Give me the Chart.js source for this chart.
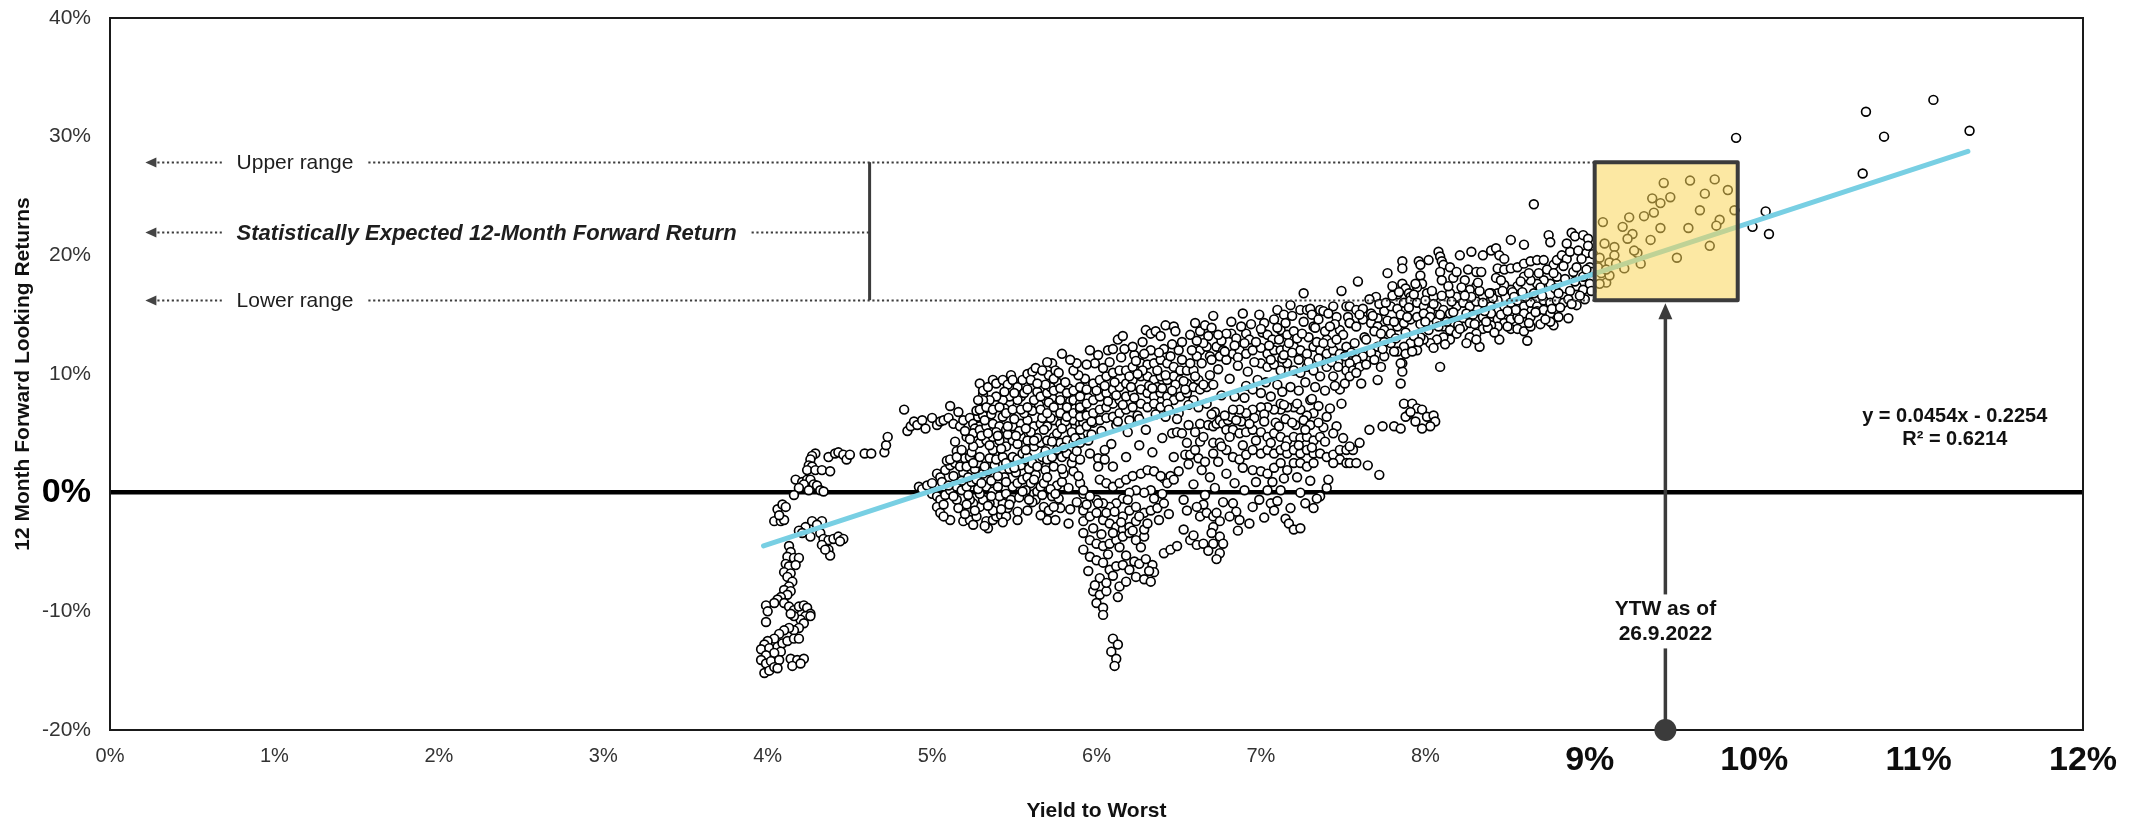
<!DOCTYPE html>
<html>
<head>
<meta charset="utf-8">
<script src="https://cdn.jsdelivr.net/npm/chart.js@4.4.1/dist/chart.umd.min.js"></script>
<style>
  html, body { margin: 0; padding: 0; background: #fff; }
  canvas { display: block; }
</style>
</head>
<body>
<canvas id="chart" width="2131" height="822"></canvas>
<script>
// Axis tick labels
const xTickLabels = ['0%', '1%', '2%', '3%', '4%', '5%', '6%', '7%', '8%', '9%', '10%', '11%', '12%'];
const yTickLabels = ['-20%', '-10%', '0%', '10%', '20%', '30%', '40%'];

// Yield to worst (%) vs. 12 month forward return (%), grouped by region of the cloud
const hookPoints = [
  [4.29,3.3],[4.27,3.1],[4.26,2.8],[4.25,2.3],[4.27,2.2],[4.24,1.9],[4.29,1.9],[4.33,1.9],[4.38,1.8],[4.17,1.1],
  [4.21,0.9],[4.24,1.1],[4.26,1.1],[4.28,0.7],[4.30,0.6],[4.22,0.7],[4.19,0.4],[4.25,0.2],[4.32,0.2],[4.34,0.1],
  [4.16,-0.2],[4.37,3.0],[4.41,3.3],[4.43,3.4],[4.46,3.2],[4.48,2.8],[4.50,3.2],[4.59,3.3],[4.63,3.3],[4.71,3.4],
  [4.72,4.0],[4.73,4.7],[4.06,-1.4],[4.09,-1.0],[4.11,-1.2],[4.04,-2.4],[4.08,-2.4],[4.10,-2.3],[4.07,-1.9],
  [4.27,-2.4],[4.33,-2.4],[4.30,-2.7],[4.23,-2.9],[4.19,-3.2],[4.21,-3.4],[4.26,-3.7],[4.32,-3.4],[4.34,-3.9],
  [4.37,-4.0],[4.40,-3.9],[4.43,-3.7],[4.46,-3.9],[4.44,-4.1],[4.33,-4.4],[4.37,-4.8],[4.38,-5.3],[4.35,-4.8],
  [4.13,-4.5],[4.14,-5.0],[4.12,-5.4],[4.16,-5.5],[4.19,-5.5],[4.11,-6.0],[4.13,-6.2],[4.17,-6.1],[4.10,-6.7],
  [4.14,-6.8],[4.12,-7.1],[4.15,-7.5],[4.13,-7.9],[4.10,-8.2],[4.14,-8.3],[4.12,-8.6],[4.08,-8.8],[4.06,-9.0],
  [4.04,-9.3],[3.99,-9.5],[4.00,-10.0],[3.99,-10.9],[4.10,-9.3],[4.13,-9.6],[4.16,-9.9],[4.19,-9.6],[4.22,-9.5],
  [4.24,-9.7],[4.26,-10.2],[4.23,-10.4],[4.20,-10.7],[4.16,-10.4],[4.14,-10.2],[4.26,-10.4],[4.22,-11.0],
  [4.19,-11.4],[4.16,-11.6],[4.13,-11.4],[4.10,-11.6],[4.07,-11.9],[4.04,-12.3],[4.00,-12.5],[3.98,-12.8],
  [3.96,-13.2],[4.01,-13.1],[4.06,-13.0],[4.09,-12.7],[4.12,-12.5],[4.16,-12.3],[4.19,-12.3],[4.08,-13.4],
  [4.04,-13.5],[3.99,-13.7],[3.96,-14.1],[3.99,-14.4],[4.02,-14.2],[4.07,-14.1],[4.14,-14.0],[4.18,-14.1],
  [4.22,-14.0],[4.15,-14.6],[4.20,-14.4],[3.98,-15.2],[4.01,-15.0],[4.04,-14.7],[4.06,-14.8]
];

const earlyBandPoints = [
  [4.83,7.0],[4.85,5.2],[4.87,5.6],[4.89,6.0],[4.91,5.7],[4.94,6.1],[4.96,5.4],[5.00,6.3],[5.03,5.7],[5.05,6.0],
  [5.07,6.1],[5.11,7.3],[5.10,6.3],[5.13,5.8],[5.16,6.8],[5.17,5.6],[5.19,6.1],[5.23,6.3],[5.25,5.8],[5.28,6.4],
  [5.31,6.5],[5.29,5.6],[5.26,5.4]
];

const nearZeroPoints = [
  [4.92,0.5],[4.94,0.3],[4.97,0.6],[5.00,0.8],[5.03,1.6],[5.05,1.3],[5.08,1.9],[5.11,2.3],[5.14,2.5],[5.17,2.8],
  [5.20,2.9],[5.23,3.0],[5.00,-0.1],[5.03,-0.3],[5.05,-0.6],[5.08,-0.2],[5.11,0.2],[5.15,0.5],[5.18,0.2],[5.21,0.5],
  [5.24,0.9],[5.27,1.1],[5.03,-1.2],[5.05,-1.7],[5.07,-1.0],[5.11,-2.3],[5.19,-2.4],[5.23,-2.3],[5.25,-2.7],
  [5.27,-2.0],[5.29,-1.2],[5.25,-0.9],[5.23,-0.6],[5.21,-1.0],[5.15,-0.6],[5.33,-2.4],[5.34,-3.0],[5.37,-2.3],
  [5.39,-2.0],[5.42,-1.9],[5.45,-2.0],[5.46,-1.3],[5.52,-1.6],[5.58,-1.5],[5.43,-0.9],[5.37,-1.5],[5.35,-0.9],
  [5.31,-0.6],[5.29,-0.1],[5.33,0.5],[5.37,0.1],[5.41,-0.3],[5.45,-0.1],[5.49,0.5],[5.52,0.8],[5.55,1.1],
  [5.58,1.3],[5.60,0.8],[5.62,-0.1],[5.64,0.1],[5.66,0.5],[5.68,0.8],[5.63,-0.6],[5.68,-1.2],[5.71,-1.5],
  [5.70,-2.3],[5.75,-2.3],[5.78,-1.3],[5.74,-1.2],[5.73,-0.3],[5.76,0.6],[5.79,0.9],[5.83,-2.6],[5.86,1.8],
  [5.90,0.8],[5.92,-0.1],[5.92,-1.2],[5.92,-2.4],
  [5.06,0.9],[5.09,2.7],[5.13,1.4],[5.16,-1.3],[5.19,1.7],[5.22,-0.2],[5.26,2.0],[5.28,0.3],[5.31,1.6],[5.34,-1.1],
  [5.36,1.0],[5.38,2.3],[5.40,0.5],[5.42,-1.4],[5.44,1.3],[5.47,2.0],[5.48,-0.6],[5.51,1.7],[5.53,-0.4],[5.54,2.3],
  [5.57,0.2],[5.59,2.0],[5.61,-0.8],[5.63,1.5],[5.65,2.6],[5.67,-0.2],[5.69,1.9],[5.72,0.3],[5.74,2.2],[5.77,-0.5],
  [5.80,1.6],[5.83,0.4],[5.85,2.5],[5.88,-0.8],[5.89,1.4],
  [5.07,-2.0],[5.10,0.6],[5.13,-0.3],[5.15,3.5],[5.18,1.0],[5.20,-1.8],[5.22,1.3],[5.24,3.4],[5.26,-1.5],[5.28,2.5],
  [5.30,0.8],[5.32,-2.8],[5.34,1.8],[5.36,-0.3],[5.38,3.2],[5.40,1.4],[5.43,-2.5],[5.45,0.9],[5.47,-1.0],[5.50,2.1],
  [5.52,-2.3],[5.55,0.1],[5.57,2.8],[5.59,-0.6],[5.62,1.1],[5.66,-1.9],[5.70,1.3],[5.75,-0.1],[5.79,2.0],[5.84,-1.4]
];

const midBandPoints = [
  [5.11,2.8],[5.15,3.0],[5.17,2.2],[5.21,2.2],[5.25,2.5],[5.29,3.0],[5.32,2.2],[5.35,2.9],[5.37,3.6],[5.39,2.8],
  [5.43,3.0],[5.45,2.5],[5.49,3.0],[5.52,2.8],[5.55,3.3],[5.58,3.0],[5.61,2.5],[5.64,2.2],[5.67,3.0],[5.70,2.8],
  [5.73,3.0],[5.76,3.6],[5.79,3.0],[5.82,3.3],[5.29,4.2],[5.25,3.9],[5.33,4.4],[5.37,4.7],[5.41,4.4],[5.45,3.9],
  [5.49,4.4],[5.54,4.7],[5.58,4.4],[5.62,3.9],[5.66,4.2],[5.70,4.4],[5.74,4.7],[5.78,4.2],[5.82,4.4],[5.86,4.2],
  [5.90,4.7],[5.86,3.0],[5.90,2.8],[5.21,4.7],[5.25,5.0],[5.29,5.3],[5.33,5.6],[5.37,5.8],[5.41,5.6],[5.45,5.3],
  [5.49,5.6],[5.54,5.8],[5.58,6.1],[5.62,5.6],[5.66,5.8],[5.70,5.6],[5.74,6.1],[5.78,5.8],[5.82,5.6],[5.86,6.1],
  [5.90,5.8],
  [5.14,4.3],[5.18,3.6],[5.20,5.2],[5.23,4.5],[5.27,6.9],[5.30,4.8],[5.32,6.1],[5.35,4.0],[5.36,6.6],[5.39,5.1],
  [5.42,3.7],[5.43,6.4],[5.46,4.9],[5.47,7.6],[5.50,6.2],[5.52,4.1],[5.53,5.2],[5.56,6.7],[5.57,3.6],[5.60,5.1],
  [5.61,6.9],[5.64,4.6],[5.65,7.4],[5.68,5.3],[5.69,3.5],[5.72,6.3],[5.73,8.0],[5.76,5.0],[5.77,7.3],[5.80,3.8],
  [5.81,6.0],[5.84,7.7],[5.85,5.1],[5.88,3.5],[5.88,8.2],[5.91,6.9],[5.93,9.6],
  [5.31,8.3],[5.34,5.0],[5.38,7.5],[5.40,4.8],[5.44,7.1],[5.46,5.6],[5.48,9.9],[5.51,4.8],[5.54,8.1],[5.57,5.4],
  [5.59,9.6],[5.62,4.4],[5.64,8.5],[5.67,6.3],[5.71,7.6],[5.73,4.3],[5.76,9.3],[5.79,5.4],[5.83,8.8],[5.87,4.6],
  [5.89,9.9],[5.92,5.9],[5.95,8.0],[5.99,10.9]
];

const upperLeftPoints = [
  [5.29,9.2],[5.31,8.6],[5.34,8.9],[5.37,9.5],[5.39,9.2],[5.43,9.5],[5.46,9.1],[5.49,9.5],[5.52,8.9],[5.55,9.5],
  [5.58,10.0],[5.61,10.2],[5.63,10.5],[5.60,9.5],[5.56,8.4],[5.52,7.8],[5.47,8.1],[5.43,7.8],[5.39,8.1],[5.35,7.8],
  [5.31,7.8],[5.28,7.8],[5.29,7.0],[5.33,7.2],[5.37,7.0],[5.41,7.2],[5.45,6.7],[5.49,7.0],[5.54,7.0],[5.58,7.2],
  [5.62,7.8],[5.66,8.1],[5.70,8.4],[5.72,8.9],[5.74,8.6],[5.69,9.1],[5.71,9.9],[5.73,10.9],[5.75,10.3],[5.70,11.0],
  [5.74,9.6],[5.79,11.7],[5.86,10.3],[5.88,10.9],[5.78,8.8],[5.82,8.4],[5.86,8.6],[5.90,8.9],[5.78,7.8],[5.82,7.2],
  [5.86,7.8],[5.90,7.5],[5.66,7.0],[5.70,6.7],[5.74,7.2],[5.78,6.7],[5.82,6.4],[5.86,6.7],[5.90,7.0],
  [5.58,8.7],[5.50,8.4],[5.44,8.5],[5.64,9.2],[5.81,9.3],[5.77,10.1],[5.84,11.2],[5.67,10.3]
];

const centralUpperPoints = [
  [5.96,12.0],[5.94,10.8],[6.07,12.0],[6.10,12.1],[6.13,12.9],[6.16,13.2],[6.23,11.6],[6.30,13.7],[6.33,13.4],
  [6.36,13.6],[6.39,13.2],[6.42,14.1],[6.47,14.0],[6.48,13.6],[6.52,12.7],[6.57,13.3],[6.60,14.3],[6.63,13.6],
  [6.66,14.1],[6.70,13.9],[6.71,14.9],[6.68,13.2],[6.73,12.3],[6.77,12.0],[6.82,13.4],[6.85,13.0],[6.89,15.1],
  [6.91,13.4],[6.93,12.9],[6.99,15.0],[7.01,13.5],[7.04,13.3],[7.07,12.9],[7.10,15.4],[7.12,13.7],[7.14,15.0],
  [7.16,13.3],[7.18,15.8],[7.20,13.6],[7.24,15.4],[7.26,16.8],[7.28,15.4],[7.30,15.5],[7.32,14.0],[7.36,15.4],
  [7.38,15.3],[7.40,12.9],[7.44,15.7],[7.46,14.8],[7.48,13.7],[7.49,17.0],[7.52,15.7],[7.54,14.3],
  [6.63,12.0],[6.67,12.3],[6.61,11.5],[6.69,11.5],[6.75,11.5],[6.79,11.2],[6.83,11.7],[6.87,12.0],[6.91,11.7],
  [6.95,12.0],[7.00,12.2],[7.04,11.7],[7.08,12.0],[7.12,12.0],[7.16,12.2],[7.20,12.3],[7.24,12.0],[7.28,11.7],
  [7.32,12.3],[7.36,12.0],[7.40,11.7],[7.44,12.0],[7.48,11.7],[7.52,12.3],[7.00,10.9],[7.04,10.6],[7.08,10.8],
  [7.12,10.3],[7.16,10.9],[7.20,10.3],[7.24,10.1],[7.28,10.6],[7.32,10.3],[7.36,9.8],[7.44,9.8],[7.48,8.7],
  [7.52,10.3],[7.40,10.6],
  [7.02,14.3],[7.05,12.4],[7.08,14.6],[7.11,12.9],[7.13,11.3],[7.15,14.3],[7.17,12.6],[7.19,14.9],[7.22,13.0],
  [7.23,11.2],[7.26,14.4],[7.29,13.1],[7.31,15.0],[7.34,12.7],[7.35,14.6],[7.37,11.1],[7.39,13.6],[7.41,15.1],
  [7.43,12.6],[7.45,14.2],[7.47,11.0],[7.50,13.3],[7.53,14.8],[7.55,11.8],[6.94,14.2],[6.97,12.7],[6.88,14.0],
  [6.79,13.4],[6.76,12.8],[6.84,12.4],
  [6.65,12.6],[6.70,11.2],[6.74,13.3],[6.78,11.9],[6.82,14.4],[6.86,11.4],[6.90,12.6],[6.96,11.0],[7.00,13.8],
  [7.06,11.2],[7.10,13.9],[7.14,11.6],[7.19,11.8],[7.25,13.4],[7.29,11.0],[7.33,13.9],[7.38,12.6],[7.42,14.0],
  [7.46,12.9],[7.51,11.5]
];

const centralMidPoints = [
  [5.90,8.1],[5.94,8.7],[5.98,9.2],[6.02,9.5],[6.06,9.8],[6.10,10.1],[6.14,10.3],[6.18,10.3],[6.22,10.6],[6.27,10.9],
  [6.31,10.8],[6.35,10.9],[6.39,11.2],[6.43,10.9],[6.47,10.6],[6.51,10.3],[6.55,10.3],[6.59,10.3],[5.90,7.2],
  [5.94,7.5],[5.98,7.8],[6.02,8.1],[6.06,8.4],[6.10,8.7],[6.14,8.9],[6.18,9.2],[6.22,9.5],[6.27,9.8],[6.31,9.8],
  [6.35,9.5],[6.39,9.8],[6.43,9.5],[6.47,9.8],[6.51,9.5],[6.55,9.2],[6.59,8.9],[6.63,8.7],[6.67,8.9],[6.71,9.1],
  [5.90,6.4],[5.94,6.5],[5.98,6.7],[6.02,7.0],[6.06,7.2],[6.10,7.5],[6.14,7.8],[6.18,8.1],[6.22,8.4],[6.27,8.7],
  [6.31,8.4],[6.35,8.1],[6.39,8.4],[6.43,8.1],[6.47,7.8],[6.51,8.1],[6.55,8.4],[6.59,7.8],[5.90,5.3],[5.94,5.6],
  [5.98,5.9],[6.02,6.1],[6.06,6.3],[6.10,6.4],[6.14,6.7],[6.18,7.0],[6.22,7.2],[6.27,7.5],[6.31,7.2],[6.35,7.5],
  [6.39,7.2],[6.43,7.5],[5.90,4.2],[5.95,4.4],[5.96,3.3],[6.01,2.9],[6.05,2.8],[6.01,2.2],[5.97,4.9],[6.12,5.7],
  [6.20,6.1],[6.25,6.5],[6.37,8.9],[6.62,9.5],
  [5.97,6.0],[6.00,8.6],[6.03,5.2],[6.04,10.5],[6.07,7.7],[6.09,4.1],[6.11,9.3],[6.13,6.0],[6.15,11.4],[6.16,7.4],
  [6.19,5.1],[6.20,9.8],[6.23,8.0],[6.24,11.1],[6.26,6.2],[6.28,10.3],[6.30,5.3],[6.32,9.0],[6.33,12.0],[6.36,6.6],
  [6.37,10.3],[6.40,8.8],[6.41,12.1],[6.44,7.0],[6.45,11.5],[6.48,9.1],[6.50,6.7],[6.52,11.2],[6.54,8.7],[6.56,5.7],
  [6.58,12.0],[6.60,9.8],[6.62,7.2],[6.05,3.6],[6.18,3.0],[6.10,2.2],[6.26,4.0],[6.34,3.4],[6.40,4.6],[6.22,12.3],
  [6.28,12.7],[6.46,12.5],
  [6.01,11.6],[6.05,9.0],[6.08,11.0],[6.12,8.2],[6.17,12.1],[6.21,8.9],[6.25,10.0],[6.29,11.7],[6.34,8.8],[6.38,11.8],
  [6.42,9.9],[6.46,8.6],[6.50,12.0],[6.53,9.4],[6.57,10.9],[6.61,12.8],[6.65,9.1],[6.56,7.4],[6.49,6.2],[6.42,6.4]
];

const centralBranchPoints = [
  [6.46,5.0],[6.49,5.1],[6.52,5.0],[6.47,3.0],[6.54,3.2],[6.57,3.2],[6.62,2.9],[6.60,3.6],[6.63,4.3],[6.65,4.7],
  [6.63,5.8],[6.68,5.7],[6.71,5.6],[6.73,5.8],[6.75,6.1],[6.77,5.8],[6.80,6.1],[6.82,6.4],[6.79,5.3],[6.83,5.3],
  [6.87,5.0],[6.91,5.1],[6.95,5.3],[7.00,5.1],[7.04,4.7],[7.08,5.0],[7.12,4.7],[7.16,4.4],[7.20,4.7],[7.24,4.6],
  [7.28,4.7],[7.32,4.4],[7.36,4.7],[7.40,6.4],[7.32,6.7],[7.28,6.5],[7.24,7.0],[7.20,7.2],[7.16,7.2],[7.12,7.0],
  [7.08,7.0],[7.04,7.2],[7.00,7.2],[6.95,7.0],[6.91,6.7],[6.87,7.0],[6.83,7.0],[6.91,9.0],[6.95,8.7],[7.00,8.4],
  [7.12,7.5],[7.14,7.4],[7.22,7.5],[7.30,7.8],[7.31,7.9],[6.71,4.2],[6.75,4.2],[6.79,3.6],[6.83,3.0],[6.87,2.8],
  [6.91,3.2],[6.95,3.6],[7.00,3.3],[7.04,3.6],[7.08,3.3],[7.12,3.6],[7.16,3.3],[7.20,3.6],[7.24,3.3],[7.28,3.6],
  [7.32,3.3],[7.36,3.3],[7.40,3.0],[7.44,3.2],[7.48,3.6],[7.52,3.6],[7.48,2.8],[7.52,2.5],[7.44,2.5],[6.89,2.1],
  [6.95,1.9],[7.00,1.8],[7.04,1.6],[7.08,2.1],[7.12,2.5],[7.16,1.9],[7.20,2.5],[7.24,2.5],[7.28,2.2],[7.32,2.5],
  [6.71,3.3],[6.41,1.2],[6.45,1.4],
  [6.64,10.9],[6.67,7.5],[6.69,9.9],[6.72,6.8],[6.74,10.4],[6.76,8.2],[6.78,6.5],[6.81,9.6],[6.84,8.1],[6.86,10.7],
  [6.88,6.0],[6.90,8.0],[6.92,10.2],[6.96,6.3],[6.98,9.5],[7.02,6.6],[7.03,9.3],[7.06,8.1],[7.09,5.9],[7.10,9.1],
  [7.13,8.5],[7.15,6.2],[7.18,8.9],[7.21,5.7],[7.23,8.6],[7.26,6.1],[7.27,9.3],[7.30,5.7],[7.33,8.9],[7.35,7.3],
  [7.38,5.5],[7.39,8.6],[7.42,7.1],[7.45,9.0],[7.46,5.6],[7.49,7.5],[7.51,9.2],[7.43,11.0],[7.35,11.3],[7.47,10.6],
  [6.55,4.2],[6.60,5.1],[6.66,2.6],[6.70,6.6],[6.76,3.9],[6.81,4.7],[6.85,6.1],[6.89,4.0],[6.93,5.8],[6.97,4.4],
  [7.02,6.0],[7.06,4.2],[7.11,5.6],[7.15,3.9],[7.19,5.9],[7.23,4.0],[7.27,5.3],[7.31,3.8],[7.35,5.9],[7.39,4.3],
  [7.44,5.0],[7.50,4.6]
];

const centralLowPoints = [
  [6.02,1.1],[6.06,0.8],[6.10,0.5],[6.14,0.8],[6.18,1.1],[6.22,1.4],[6.27,1.6],[6.31,1.9],[6.35,1.8],[6.39,1.4],
  [6.43,0.8],[6.47,1.1],[6.33,0.2],[6.29,0.0],[6.24,0.2],[6.20,0.0],[6.16,-0.5],[6.12,-0.9],[6.08,-1.2],[6.04,-0.9],
  [6.00,-0.6],[5.96,-0.3],[5.92,0.2],[5.92,-1.5],[5.96,-2.0],[6.00,-1.7],[6.04,-2.3],[6.08,-2.6],[6.12,-2.9],
  [6.16,-3.1],[6.20,-2.9],[6.24,-2.4],[6.29,-1.7],[6.33,-1.5],[6.37,-1.3],[6.41,-0.9],[6.16,-2.0],[6.20,-1.5],
  [6.24,-1.2],[5.92,-3.4],[5.96,-4.0],[6.00,-4.3],[6.04,-4.5],[6.08,-4.3],[6.12,-4.0],[6.16,-3.7],[6.20,-3.4],
  [6.24,-4.0],[6.29,-3.7],[6.29,-3.1],[5.92,-4.8],[5.96,-5.4],[6.00,-5.7],[6.04,-5.9],[6.08,-6.5],[6.12,-6.2],
  [6.16,-6.1],[6.20,-6.5],[6.24,-7.1],[6.29,-7.3],[6.33,-7.5],[6.34,-6.1],[6.35,-6.7],[5.98,-8.3],[6.02,-8.6],
  [6.06,-8.3],[6.13,-8.8],[6.00,-9.3],[6.04,-9.7],[6.04,-10.3],[6.10,-12.3],[6.13,-12.8],[6.09,-13.4],[6.12,-14.0],
  [6.11,-14.6],[6.55,-1.5],[6.63,-2.0],[6.67,-1.7],[6.71,-2.0],[6.73,-1.7],[6.75,-2.4],[6.71,-2.9],[6.75,-3.7],
  [6.71,-4.3],[6.77,-4.3],[6.75,-5.1],[6.57,-4.0],[6.61,-4.4],[6.65,-4.3],[6.41,-5.1],[6.45,-4.8],[6.49,-4.5],
  [6.65,-1.0],[6.83,-0.9],[6.85,-1.6],[6.87,-2.3],[6.95,-1.2],[7.04,0.2],[7.06,-0.9],[7.08,-1.5],[7.12,0.2],
  [7.15,-2.2],[7.17,-2.6],[7.20,-3.1],[7.24,-3.0],[7.32,-1.3],[7.36,-0.3],[7.40,0.4],[7.41,1.1],[7.24,0.0],
  [5.94,-1.0],[5.98,-3.0],[6.01,-0.9],[6.03,-3.5],[6.06,-1.7],[6.07,-5.2],[6.10,-3.4],[6.11,-1.6],[6.14,-4.6],
  [6.15,-2.5],[6.18,-5.3],[6.19,-0.6],[6.22,-3.2],[6.23,-5.8],[6.26,-2.0],[6.27,-4.6],[6.31,-2.6],[6.32,-6.6],
  [6.35,-0.5],[6.38,-2.3],[6.40,-0.1],[6.44,-1.8],[5.95,-6.6],[6.02,-7.2],[6.06,-7.6],[6.10,-7.0],[6.14,-7.9],
  [6.18,-7.5],[6.26,-6.0],[6.30,-5.6],[5.99,-7.8],
  [6.50,1.8],[6.53,-0.6],[6.56,2.4],[6.59,0.7],[6.61,-1.2],[6.64,1.9],[6.66,-0.2],[6.69,1.3],[6.70,-3.4],[6.72,0.4],
  [6.74,2.6],[6.77,-0.8],[6.79,1.6],[6.81,-2.0],[6.84,0.8],[6.86,-3.2],[6.90,0.2],[6.93,-2.6],[6.97,0.9],[6.99,-0.6],
  [7.02,-2.1],[7.07,0.9],[7.10,-0.7],[7.14,1.2],[7.18,-1.3],[7.22,1.3],[7.27,-0.9],[7.30,1.0],[7.34,-0.5],[6.53,-3.1],
  [6.59,-3.6],[6.68,-4.9],[6.73,-5.6]
];

const highUpperPoints = [
  [8.66,24.3],[7.59,17.8],[7.70,16.5],[7.77,18.5],[7.80,17.4],[7.83,16.7],[7.86,19.5],[7.86,18.9],[7.86,17.6],
  [7.88,17.2],[7.90,16.8],[7.91,16.5],[7.96,19.5],[7.97,19.2],[7.97,18.3],[7.98,17.6],[8.02,19.6],[8.08,20.3],
  [8.09,19.9],[8.10,19.5],[8.11,19.2],[8.09,18.6],[8.10,17.9],[8.15,19.0],[8.17,18.1],[8.19,18.6],[8.21,20.0],
  [8.24,17.9],[8.26,18.8],[8.28,20.3],[8.31,18.6],[8.34,18.6],[8.35,20.0],[8.40,20.4],[8.43,20.6],[8.45,20.0],
  [8.48,19.7],[8.52,21.3],[8.44,18.9],[8.48,18.8],[8.52,18.9],[8.56,19.0],[8.60,20.9],[8.60,19.3],[8.64,19.5],
  [8.68,19.6],[8.72,19.6],[8.75,21.7],[8.76,21.1],[8.78,19.2],[8.80,19.6],[8.83,20.0],[8.86,19.7],[8.88,20.3],
  [8.89,21.9],[8.91,21.6],[8.93,20.4],[8.96,21.7],[8.98,20.2],[8.99,21.4],[9.00,19.0],[8.96,18.2],[8.92,17.4],
  [8.88,17.0],[8.84,16.5],[8.80,18.2],[8.76,17.6],[8.72,17.9],[8.68,17.6],[8.64,17.9],[8.60,18.2],[8.56,17.4],
  [8.52,17.1],[8.48,17.5],[8.44,16.8],[8.40,16.8],[8.35,16.5],[8.31,17.4],[8.27,17.1],[8.23,16.8],[8.19,16.5],
  [8.15,16.8],[8.96,17.1],[9.00,17.6],[9.01,18.6],[8.01,16.8],[8.05,16.5],[7.95,17.3]
];

const highBandPoints = [
  [7.54,15.7],[7.58,15.4],[7.62,15.5],[7.67,15.1],[7.71,14.7],[7.75,15.3],[7.79,15.7],[7.83,15.5],[7.87,16.0],
  [7.91,16.2],[7.95,16.0],[7.99,15.7],[8.03,15.3],[8.07,15.7],[8.11,15.4],[8.15,15.1],[8.19,15.7],[8.23,16.0],
  [8.27,15.7],[8.31,16.1],[8.35,16.0],[8.40,15.7],[8.44,16.2],[8.48,15.7],[8.52,16.0],[8.56,16.2],[8.60,15.7],
  [8.64,16.0],[8.68,15.7],[8.72,16.2],[8.76,16.0],[8.80,16.2],[8.84,16.0],[7.54,14.3],[7.58,14.0],[7.62,14.6],
  [7.67,14.3],[7.71,14.0],[7.75,13.7],[7.79,13.4],[7.83,14.0],[7.87,14.3],[7.91,14.6],[7.95,14.8],[7.99,15.1],
  [8.03,14.8],[8.07,14.4],[8.11,14.0],[8.15,13.7],[8.19,13.4],[8.23,14.0],[8.27,14.3],[8.31,14.6],[8.35,14.8],
  [8.40,15.1],[8.44,14.6],[8.48,14.3],[8.52,14.6],[8.56,14.8],[8.60,15.1],[8.64,14.8],[8.68,15.3],[8.72,15.4],
  [8.76,15.1],[8.78,14.1],[8.76,14.4],[8.52,13.8],[8.56,13.8],[8.60,13.6],[8.64,14.0],[8.44,14.0],[8.40,14.1],
  [8.35,13.8],[8.31,13.4],[8.27,13.1],[8.33,12.3],[8.31,12.9],[8.15,12.9],[8.11,13.1],[8.07,12.9],[8.03,12.6],
  [7.99,12.9],[7.95,12.0],[7.97,13.1],[7.91,12.6],[7.87,12.3],[7.83,11.9],[7.79,12.6],[7.75,12.7],[7.71,12.3],
  [7.67,11.8],[7.62,11.5],[7.58,11.2],[7.54,10.9],[7.56,10.3],[7.60,10.6],[7.64,10.8],[7.69,11.2],[7.73,10.6],
  [7.71,9.5],[7.61,9.2],[7.75,11.5],[7.81,11.9],[7.86,10.9],[7.88,11.7],[7.92,11.9],[7.86,10.2],[7.85,9.2],
  [8.09,10.6],[7.54,9.8],[7.58,10.1],
  [7.87,7.5],[7.92,7.5],[7.95,7.1],[7.98,7.0],[8.01,6.4],[8.05,6.5],[8.06,6.0],[8.03,5.6],[7.98,5.4],[7.94,6.0],
  [7.90,6.6],[7.88,6.4],[7.91,6.8],[7.81,5.6],[7.85,5.4],[7.74,5.6],[7.66,5.3],[7.60,4.2],[7.56,3.6],[7.54,2.5],
  [7.58,2.5],[7.65,2.3],[7.72,1.5],[7.54,3.9],
  [7.57,12.6],[7.60,15.0],[7.63,13.1],[7.66,16.3],[7.69,13.6],[7.72,15.9],[7.74,12.1],[7.77,14.5],[7.80,16.6],
  [7.82,13.0],[7.85,15.0],[7.88,13.5],[7.90,15.6],[7.93,13.2],[7.94,17.6],[7.97,14.2],[8.00,16.2],[8.02,13.7],
  [8.05,15.9],[8.08,14.0],[8.10,16.6],[8.13,14.4],[8.14,17.4],[8.17,15.2],[8.20,14.1],[8.22,17.3],[8.25,15.1],
  [8.28,16.5],[8.30,14.2],[8.33,17.0],[8.36,15.3],[8.38,13.9],[8.41,16.4],[8.43,18.1],[8.46,15.0],[8.47,17.0],
  [8.50,14.0],[8.53,16.9],[8.55,15.4],[8.58,17.8],[8.61,16.5],[8.63,14.3],[8.66,16.8],[8.69,18.5],[8.71,16.6],
  [8.74,18.8],[8.77,15.5],[8.79,17.2],[8.82,15.6],[8.85,18.0],[8.87,16.3],[8.90,18.6],[8.92,15.8],[8.95,19.7],
  [8.97,16.3],[8.99,20.8],[9.01,17.0],[8.62,12.8],[8.70,14.2],[8.81,14.8],[8.87,14.7],[8.45,12.9],[8.25,12.6],
  [8.05,12.2],[7.85,10.9],
  [7.64,12.9],[7.68,14.9],[7.73,13.4],[7.76,16.0],[7.81,14.4],[7.84,16.9],[7.89,14.8],[7.93,16.7],[7.96,12.7],
  [8.00,14.4],[8.04,17.0],[8.09,15.0],[8.12,12.5],[8.16,16.1],[8.21,13.8],[8.24,16.6],[8.29,15.0],[8.32,17.7],
  [8.37,14.4],[8.39,16.8],[8.42,13.5],[8.46,17.9],[8.50,15.3],[8.54,16.5],[8.57,14.6],[8.59,16.9],[8.63,18.5],
  [8.67,15.2],[8.70,17.3],[8.73,14.6],[8.78,18.5],[8.81,16.8],[8.84,19.1],[8.89,15.9],[8.91,17.8],[8.94,16.6],
  [8.98,18.8],[9.02,20.1],[8.92,19.0],[8.86,21.0]
];

const boxPoints = [
  [9.08,22.8],[9.24,23.2],[9.20,22.4],[9.26,21.8],[9.23,21.4],[9.33,23.3],[9.39,23.6],[9.38,24.8],[9.43,24.4],
  [9.49,24.9],[9.45,26.1],[9.61,26.3],[9.76,26.4],[9.84,25.5],[9.70,25.2],[9.67,23.8],[9.88,23.8],[9.79,23.0],
  [9.77,22.5],[9.60,22.3],[9.43,22.3],[9.37,21.3],[9.73,20.8],[9.53,19.8],[9.29,20.2],[9.27,20.4],[9.31,19.3],
  [9.21,18.9],[9.15,20.7],[9.09,21.0],[9.15,20.0],[9.12,19.4],[9.16,19.3],[9.06,19.8],[9.07,18.5],[9.10,17.7],
  [9.06,17.6],[9.12,18.3],[9.05,19.0],[9.10,18.8]
];

const outlierPoints = [
  [9.89,29.9],[10.68,32.1],[10.79,30.0],[10.66,26.9],[11.09,33.1],[11.31,30.5],[10.07,23.7],[9.99,22.4],[10.09,21.8]
];

const scatterPoints = [].concat(
  hookPoints, earlyBandPoints, nearZeroPoints, midBandPoints, upperLeftPoints,
  centralUpperPoints, centralMidPoints, centralBranchPoints, centralLowPoints,
  highUpperPoints, highBandPoints, boxPoints, outlierPoints
);

// Linear fit as printed on the chart: y = 0.0454x - 0.2254 (x in %, y as a fraction)
const trendSlope = 0.0454;
const trendIntercept = -0.2254;
const trendRange = [3.975, 11.3];
const equationText = ['y = 0.0454x - 0.2254', 'R\u00B2 = 0.6214'];

// Return range read-outs (%), the current yield to worst and its window (%)
const rangeLevels = [27.85, 22.0, 16.22];
const rangeTexts = ['Upper range', 'Statistically Expected 12-Month Forward Return', 'Lower range'];
const ytwValue = 9.46;
const ytwWindow = [9.03, 9.9];
const ytwText = ['YTW as of', '26.9.2022'];

const FONT = '"Liberation Sans", Arial, Helvetica, sans-serif';

const trendValue = (x) => (trendSlope * x + trendIntercept) * 100;

const annotations = {
  id: 'annotations',
  beforeDatasetsDraw(chart) {
    const { ctx, chartArea: a } = chart;
    ctx.save();
    ctx.strokeStyle = '#1a1a1a';
    ctx.lineWidth = 2;
    ctx.strokeRect(a.left, a.top, a.right - a.left, a.bottom - a.top);
    ctx.restore();
  },
  afterDatasetsDraw(chart) {
    const { ctx, scales: { x, y } } = chart;
    const dark = '#3b3b3b';
    ctx.save();

    const boxL = x.getPixelForValue(ytwWindow[0]);
    const boxR = x.getPixelForValue(ytwWindow[1]);
    const boxT = y.getPixelForValue(rangeLevels[0]);
    const boxB = y.getPixelForValue(rangeLevels[2]);
    const barX = x.getPixelForValue(4.62);

    // Range rows: arrow, dotted leader, label, dotted guide
    const tipX = x.getPixelForValue(0.215);
    const tailX = x.getPixelForValue(0.68);
    const labelX = x.getPixelForValue(0.77);
    rangeTexts.forEach((text, i) => {
      const py = Math.round(y.getPixelForValue(rangeLevels[i])) + 0.5;
      ctx.fillStyle = '#444';
      ctx.beginPath();
      ctx.moveTo(tipX, py);
      ctx.lineTo(tipX + 11, py - 5);
      ctx.lineTo(tipX + 11, py + 5);
      ctx.closePath();
      ctx.fill();

      ctx.setLineDash([2.2, 2.6]);
      ctx.lineWidth = 2.2;
      ctx.strokeStyle = '#3d3d3d';
      ctx.beginPath();
      ctx.moveTo(tipX + 12, py);
      ctx.lineTo(tailX, py);
      ctx.stroke();

      ctx.font = i === 1 ? `italic bold 22px ${FONT}` : `21px ${FONT}`;
      ctx.fillStyle = '#1e1e1e';
      ctx.textAlign = 'left';
      ctx.textBaseline = 'middle';
      ctx.fillText(text, labelX, py + 1);
      const w = ctx.measureText(text).width;

      const end = i === 1 ? barX : boxL;
      ctx.beginPath();
      ctx.moveTo(labelX + w + 15, py);
      ctx.lineTo(end, py);
      ctx.stroke();
      ctx.setLineDash([]);
    });

    // Bracket joining upper and lower range
    ctx.strokeStyle = dark;
    ctx.lineWidth = 3;
    ctx.beginPath();
    ctx.moveTo(barX, boxT);
    ctx.lineTo(barX, boxB);
    ctx.stroke();

    // Highlighted window around today's yield
    ctx.fillStyle = 'rgba(250, 214, 88, 0.55)';
    ctx.fillRect(boxL, boxT, boxR - boxL, boxB - boxT);
    ctx.lineWidth = 4;
    ctx.lineJoin = 'round';
    ctx.strokeStyle = dark;
    ctx.strokeRect(boxL, boxT, boxR - boxL, boxB - boxT);

    // YTW pointer
    const px = x.getPixelForValue(ytwValue);
    const baseY = y.getPixelForValue(-20);
    const tipY = boxB + 3;
    ctx.lineWidth = 3.5;
    ctx.beginPath();
    ctx.moveTo(px, baseY);
    ctx.lineTo(px, tipY + 14);
    ctx.stroke();
    ctx.fillStyle = dark;
    ctx.beginPath();
    ctx.moveTo(px, tipY);
    ctx.lineTo(px - 7, tipY + 16);
    ctx.lineTo(px + 7, tipY + 16);
    ctx.closePath();
    ctx.fill();
    ctx.beginPath();
    ctx.arc(px, baseY, 11, 0, Math.PI * 2);
    ctx.fill();

    ctx.font = `bold 21px ${FONT}`;
    const textMid = y.getPixelForValue(-10.85);
    const tw = Math.max(...ytwText.map(t => ctx.measureText(t).width));
    ctx.fillStyle = '#fff';
    ctx.fillRect(px - tw / 2 - 4, textMid - 27, tw + 8, 54);
    ctx.fillStyle = '#111';
    ctx.textAlign = 'center';
    ctx.textBaseline = 'middle';
    ctx.fillText(ytwText[0], px, textMid - 12);
    ctx.fillText(ytwText[1], px, textMid + 13);

    // Fit equation
    ctx.font = `bold 20px ${FONT}`;
    const ex = x.getPixelForValue(11.22);
    ctx.fillText(equationText[0], ex, y.getPixelForValue(6.46));
    ctx.fillText(equationText[1], ex, y.getPixelForValue(4.44));

    ctx.restore();
  }
};

new Chart(document.getElementById('chart'), {
  type: 'scatter',
  data: {
    datasets: [
      {
        type: 'line',
        label: 'Linear fit',
        data: trendRange.map(v => ({ x: v, y: trendValue(v) })),
        borderColor: '#78cfe3',
        borderWidth: 5,
        borderCapStyle: 'round',
        pointRadius: 0,
        fill: false,
        order: 0
      },
      {
        label: '12M forward return',
        data: scatterPoints.map(p => ({ x: p[0], y: p[1] })),
        pointRadius: 4.4,
        pointBorderWidth: 1.65,
        pointBorderColor: '#000',
        pointBackgroundColor: '#fff',
        order: 1
      }
    ]
  },
  options: {
    responsive: false,
    animation: false,
    devicePixelRatio: 1,
    layout: { padding: { top: 18, right: 48, left: 0, bottom: 0 } },
    plugins: { legend: { display: false }, tooltip: { enabled: false } },
    scales: {
      x: {
        type: 'linear',
        min: 0, max: 12,
        afterFit: (s) => { s.height = 92; },
        border: { display: false },
        grid: { display: false, drawTicks: false },
        ticks: {
          stepSize: 1,
          autoSkip: false,
          maxRotation: 0,
          padding: 13,
          callback: (v) => xTickLabels[Math.round(v)],
          font: (c) => (c.tick && c.tick.value >= 9)
            ? { family: FONT, size: 34, weight: 'bold', lineHeight: 1.05 }
            : { family: FONT, size: 20, lineHeight: 1.3 },
          color: (c) => (c.tick && c.tick.value >= 9) ? '#0d0d0d' : '#333'
        },
        title: {
          display: true,
          text: 'Yield to Worst',
          color: '#111',
          font: { family: FONT, size: 21, weight: 'bold', lineHeight: 1 },
          padding: { top: 0, bottom: 0 }
        }
      },
      y: {
        type: 'linear',
        min: -20, max: 40,
        afterFit: (s) => { s.width = 110; s.paddingTop = 0; s.paddingBottom = 0; },
        border: { display: false },
        grid: {
          drawTicks: false,
          color: (c) => (c.tick && c.tick.value === 0) ? '#000' : 'rgba(0,0,0,0)',
          lineWidth: (c) => (c.tick && c.tick.value === 0) ? 4.5 : 1
        },
        ticks: {
          stepSize: 10,
          padding: 19,
          callback: (v) => yTickLabels[Math.round((v + 20) / 10)],
          font: (c) => (c.tick && c.tick.value === 0)
            ? { family: FONT, size: 34, weight: 'bold' }
            : { family: FONT, size: 21 },
          color: (c) => (c.tick && c.tick.value === 0) ? '#000' : '#333'
        },
        title: {
          display: true,
          text: '12 Month Forward Looking Returns',
          color: '#111',
          font: { family: FONT, size: 21, weight: 'bold' },
          padding: { top: 11, bottom: 0 }
        }
      }
    }
  },
  plugins: [annotations]
});
</script>
</body>
</html>
